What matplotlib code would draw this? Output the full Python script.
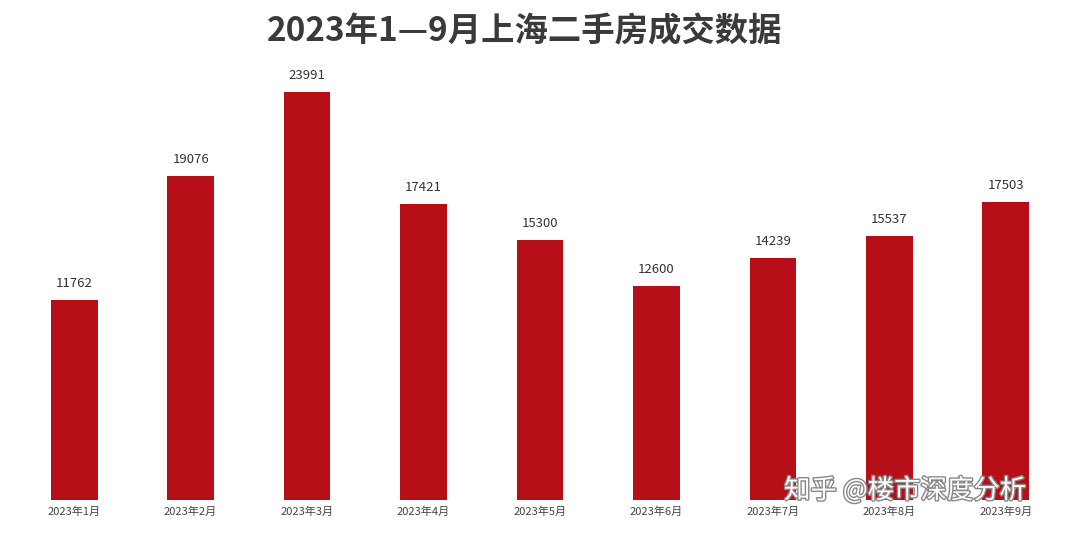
import matplotlib.pyplot as plt
import matplotlib.patheffects as pe

plt.rcParams['font.family'] = ['Noto Sans CJK SC', 'DejaVu Sans']

months = ["2023年1月", "2023年2月", "2023年3月", "2023年4月", "2023年5月",
          "2023年6月", "2023年7月", "2023年8月", "2023年9月"]
deals = [11762, 19076, 23991, 17421, 15300, 12600, 14239, 15537, 17503]

fig = plt.figure(figsize=(10.8, 5.36), dpi=100)
ax = fig.add_axes([16 / 1080, 36 / 536, 1048 / 1080, 442 / 536])
x = list(range(len(months)))
ax.bar(x, deals, width=0.4, color="#B70F18")
for xi, v in zip(x, deals):
    ax.text(xi, v + 600, str(v), ha="center", va="bottom", fontsize=9.5, color="#333333")
ax.set_xlim(-0.5, 8.5)
ax.set_ylim(0, 26000)
ax.set_xticks(x)
ax.set_xticklabels(months, fontsize=8, color="#444444")
ax.tick_params(axis="x", length=0, pad=5)
ax.set_yticks([])
for s in ax.spines.values():
    s.set_visible(False)

fig.text(0.486, 0.94, "2023年1—9月上海二手房成交数据", ha="center", va="center",
         fontsize=24, fontweight="bold", color="#3a3a3a")
fig.text(0.838, 0.085, "知乎 @楼市深度分析", ha="center", va="center", fontsize=19,
         color="white", zorder=5,
         path_effects=[pe.withStroke(linewidth=2, foreground="#888888")])

fig.savefig("out.png", dpi=100)
